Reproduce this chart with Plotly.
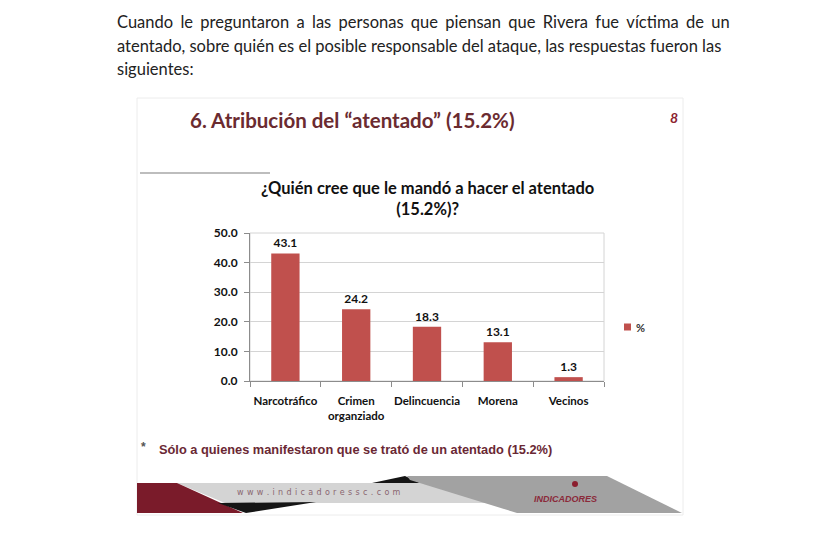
import plotly.graph_objects as go

categories = ["Narcotráfico", "Crimen<br>organziado", "Delincuencia", "Morena", "Vecinos"]
values = [43.1, 24.2, 18.3, 13.1, 1.3]
series_name = "%"
y_ticks = [0, 10, 20, 30, 40, 50]

OFF = 8  # page body margin
W, H = 840 - OFF, 539 - OFF
ML, MR, MT, MB = 242, 236, 225, 158
PW = W - ML - MR
PH = H - MT - MB


def px(x):
    return (x - OFF - ML) / PW


def py(y):
    return (H - MB - (y - OFF)) / PH


def path(points):
    return "M " + " L ".join(f"{px(a):.5f},{py(b):.5f}" for a, b in points) + " Z"


fig = go.Figure()
fig.add_trace(go.Bar(
    x=categories, y=values, name=series_name,
    marker=dict(color="#C0504D", line=dict(width=0)),
    width=0.4,
    texttemplate="%{y:.1f}", textposition="outside",
    textfont=dict(family="Lato", size=12, color="#111", weight="bold"),
    cliponaxis=False, showlegend=False,
))

shapes = []
shapes.append(dict(type="rect", xref="paper", yref="paper",
                   x0=px(137), x1=px(683), y0=py(98), y1=py(515),
                   line=dict(color="#ececec", width=1), layer="below"))
shapes.append(dict(type="line", xref="paper", yref="paper",
                   x0=px(140), x1=px(270), y0=py(173), y1=py(173),
                   line=dict(color="#bdbdbd", width=2)))
shapes.append(dict(type="rect", xref="paper", yref="paper",
                   x0=0, x1=1, y0=0, y1=1,
                   line=dict(color="#d4d4d4", width=1), layer="below"))
# footer banner
shapes.append(dict(type="path", xref="paper", yref="paper",
                   path=path([(177, 483), (520, 483), (520, 503), (225, 503)]),
                   fillcolor="#D4D4D4", line=dict(width=0)))
shapes.append(dict(type="path", xref="paper", yref="paper",
                   path=path([(137, 483), (177, 483), (243, 513), (137, 513)]),
                   fillcolor="#7A1B2A", line=dict(width=0)))
shapes.append(dict(type="path", xref="paper", yref="paper",
                   path=path([(218, 503), (316, 502), (246, 513)]),
                   fillcolor="#151515", line=dict(width=0)))
shapes.append(dict(type="path", xref="paper", yref="paper",
                   path=path([(372, 483), (405, 476), (420, 483)]),
                   fillcolor="#151515", line=dict(width=0)))
shapes.append(dict(type="path", xref="paper", yref="paper",
                   path=path([(407, 476), (607, 476), (682, 513), (517, 513), (410, 480)]),
                   fillcolor="#A2A2A2", line=dict(width=0)))
shapes.append(dict(type="circle", xref="paper", yref="paper",
                   x0=px(572), x1=px(578), y0=py(481), y1=py(487),
                   fillcolor="#8B1E2E", line=dict(width=0)))
# legend swatch
shapes.append(dict(type="rect", xref="paper", yref="paper",
                   x0=px(624), x1=px(631), y0=py(323.5), y1=py(330.5),
                   fillcolor="#C0504D", line=dict(width=0)))

annotations = []
para_font = dict(family="Lato", size=16.5, color="#222")
line1 = "Cuando le preguntaron a las personas que piensan que Rivera fue víctima de un"
line1 = line1.replace(" ", " \u2009\u200a")
para_lines = [
    line1,
    "atentado, sobre quién es el posible responsable del ataque, las respuestas fueron las",
    "siguientes:",
]
for line, yy in zip(para_lines, [22, 46, 69]):
    annotations.append(dict(text=line, xref="paper", yref="paper",
                            x=px(115), y=py(yy), xanchor="left", yanchor="middle",
                            showarrow=False, font=para_font))

annotations.append(dict(text="6. Atribución del “atentado” (15.2%)", xref="paper", yref="paper",
                        x=px(188), y=py(120), xanchor="left", yanchor="middle", showarrow=False,
                        font=dict(family="Lato", size=20.5, color="#6B2B30", weight="bold")))
annotations.append(dict(text="<i>8</i>", xref="paper", yref="paper",
                        x=px(674), y=py(117), xanchor="center", yanchor="middle", showarrow=False,
                        font=dict(family="Lato", size=14, color="#8B2330", weight="bold")))
annotations.append(dict(text="¿Quién cree que le mandó a hacer el atentado<br>(15.2%)?", xref="paper", yref="paper",
                        x=px(427), y=py(198), xanchor="center", yanchor="middle", showarrow=False,
                        align="center",
                        font=dict(family="Lato", size=16.5, color="#111", weight="bold")))
annotations.append(dict(text="*", xref="paper", yref="paper",
                        x=px(143), y=py(447), xanchor="center", yanchor="middle", showarrow=False,
                        font=dict(family="Liberation Sans", size=12, color="#555", weight="bold")))
annotations.append(dict(text="Sólo a quienes manifestaron que se trató de un atentado (15.2%)", xref="paper", yref="paper",
                        x=px(157), y=py(449), xanchor="left", yanchor="middle", showarrow=False,
                        font=dict(family="Liberation Sans", size=12.8, color="#6A2834", weight="bold")))
annotations.append(dict(text="\u00a0\u200a".join("www.indicadoressc.com"),
                        xref="paper", yref="paper",
                        x=px(235), y=py(492), xanchor="left", yanchor="middle", showarrow=False,
                        font=dict(family="DejaVu Sans", size=8, color="#8A6670")))
annotations.append(dict(text="<i>INDICADORES</i>", xref="paper", yref="paper",
                        x=px(565), y=py(499), xanchor="center", yanchor="middle", showarrow=False,
                        font=dict(family="Liberation Sans", size=9, color="#8B2A3A", weight="bold")))
annotations.append(dict(text=series_name, xref="paper", yref="paper",
                        x=px(634), y=py(327), xanchor="left", yanchor="middle", showarrow=False,
                        font=dict(family="Lato", size=11, color="#333", weight="bold")))

fig.update_layout(
    width=W, height=H,
    margin=dict(l=ML, r=MR, t=MT, b=MB, pad=0),
    paper_bgcolor="white", plot_bgcolor="white",
    shapes=shapes, annotations=annotations,
    showlegend=False,
    xaxis=dict(
        showline=True, linecolor="#8c8c8c", linewidth=1,
        ticks="outside", tickson="boundaries", ticklen=5, tickcolor="#8c8c8c",
        tickangle=0, ticklabelstandoff=9,
        tickfont=dict(family="Lato", size=11.5, color="#111", weight="bold"),
        showgrid=False, fixedrange=True,
    ),
    yaxis=dict(
        range=[0, 50], tickvals=y_ticks, tickformat=".1f",
        showline=True, linecolor="#8c8c8c", linewidth=1,
        ticks="outside", ticklen=5, tickcolor="#8c8c8c",
        ticklabelstandoff=4,
        showgrid=True, gridcolor="#d4d4d4", gridwidth=1,
        zeroline=False,
        tickfont=dict(family="Lato", size=12, color="#111", weight="bold"),
    ),
)

fig.write_html("out.html")
